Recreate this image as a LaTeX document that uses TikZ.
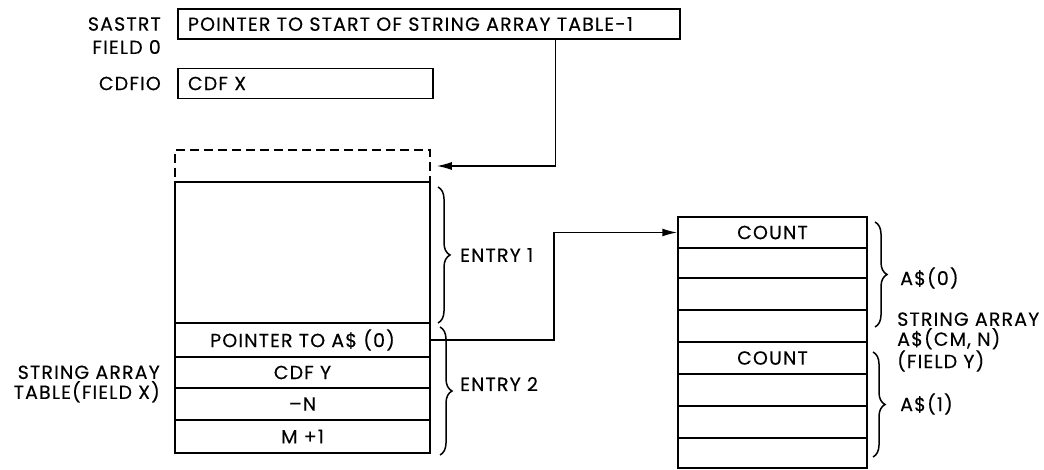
\documentclass[tikz,border=0pt]{standalone}
\usepackage{fontspec}
\setmainfont{Poppins}[LetterSpace=6, FakeBold=0.3]
\usetikzlibrary{arrows.meta,decorations.pathreplacing,calc}
\begin{document}
\begin{tikzpicture}[x=1pt,y=-1pt,
  font=\fontsize{19}{20}\selectfont,
  box/.style={draw, line width=1.5pt, inner sep=0pt},
  lbl/.style={inner sep=0pt},
  conn/.style={line width=1.5pt},
  arr/.style={conn, -{Latex[length=15pt,width=8pt]}},
  br/.style={line width=1.5pt, decorate, decoration={brace, amplitude=12pt, aspect=0.5}}]
\useasboundingbox (0,0) rectangle (1044,470);
% top boxes
\node[box, minimum width=502pt, minimum height=30pt, text width=482pt, inner xsep=10pt, align=left] (sastrtbox) at (429,24) {POINTER TO START OF STRING ARRAY TABLE-1};
\node[box, minimum width=255pt, minimum height=30pt, text width=235pt, inner xsep=10pt, align=left] (cdfiobox) at (305.5,83.5) {CDF X};
\node[lbl, anchor=east] (sastrt) at (161,24) {SASTRT};
\node[lbl, anchor=east] (field0) at (161,47) {FIELD 0};
\node[lbl, anchor=east] (cdfio) at (161,83.5) {CDFIO};
% left table
\node[box, dashed, dash pattern=on 9pt off 5pt, minimum width=255pt, minimum height=32pt] (dash) at (302.5,166) {};
\node[box, fill=white, minimum width=255pt, minimum height=141pt] (big) at (302.5,252.5) {};
\node[box, minimum width=255pt, minimum height=34pt] (ptr) at (302.5,340) {POINTER TO A\$ (0)};
\node[box, minimum width=255pt, minimum height=31pt] (cdfy) at (302.5,372.5) {CDF Y};
\node[box, minimum width=255pt, minimum height=32pt] (negn) at (302.5,404) {–N};
\node[box, minimum width=255pt, minimum height=33pt] (mp1) at (302.5,436.5) {M +1};
\node[lbl, anchor=east, align=right] (satlbl) at (160,384) {STRING ARRAY\\TABLE(FIELD X)};
% braces left table
\draw[br] (438,187) -- (438,323);
\node[lbl, anchor=west] (e1) at (460,255) {ENTRY 1};
\draw[br] (440,327) -- (440,455);
\node[lbl, anchor=west] (e2) at (460,384) {ENTRY 2};
% right table
\node[box, minimum width=189pt, minimum height=31pt] (r1) at (772.5,232.5) {COUNT};
\node[box, minimum width=189pt, minimum height=30pt] (r2) at (772.5,263) {};
\node[box, minimum width=189pt, minimum height=32pt] (r3) at (772.5,294) {};
\node[box, minimum width=189pt, minimum height=32pt] (r4) at (772.5,326) {};
\node[box, minimum width=189pt, minimum height=32pt] (r5) at (772.5,358) {COUNT};
\node[box, minimum width=189pt, minimum height=32pt] (r6) at (772.5,390) {};
\node[box, minimum width=189pt, minimum height=32pt] (r7) at (772.5,422) {};
\node[box, minimum width=189pt, minimum height=30pt] (r8) at (772.5,453) {};
% right braces
\draw[br] (875,222) -- (875,327);
\node[lbl, anchor=west] (a0) at (900,278) {A\$(0)};
\node[lbl, anchor=west, align=left] (sarr) at (897,342) {STRING ARRAY\\A\$(CM, N)\\(FIELD Y)};
\draw[br] (873,352) -- (873,457);
\node[lbl, anchor=west] (a1) at (900,404) {A\$(1)};
% connectors
\draw[arr] ([xshift=378pt]sastrtbox.south west) |- ([xshift=6pt]dash.east);
\draw[arr] (ptr.east) -- ++(123,0) |- (r1.west);
\end{tikzpicture}
\end{document}
